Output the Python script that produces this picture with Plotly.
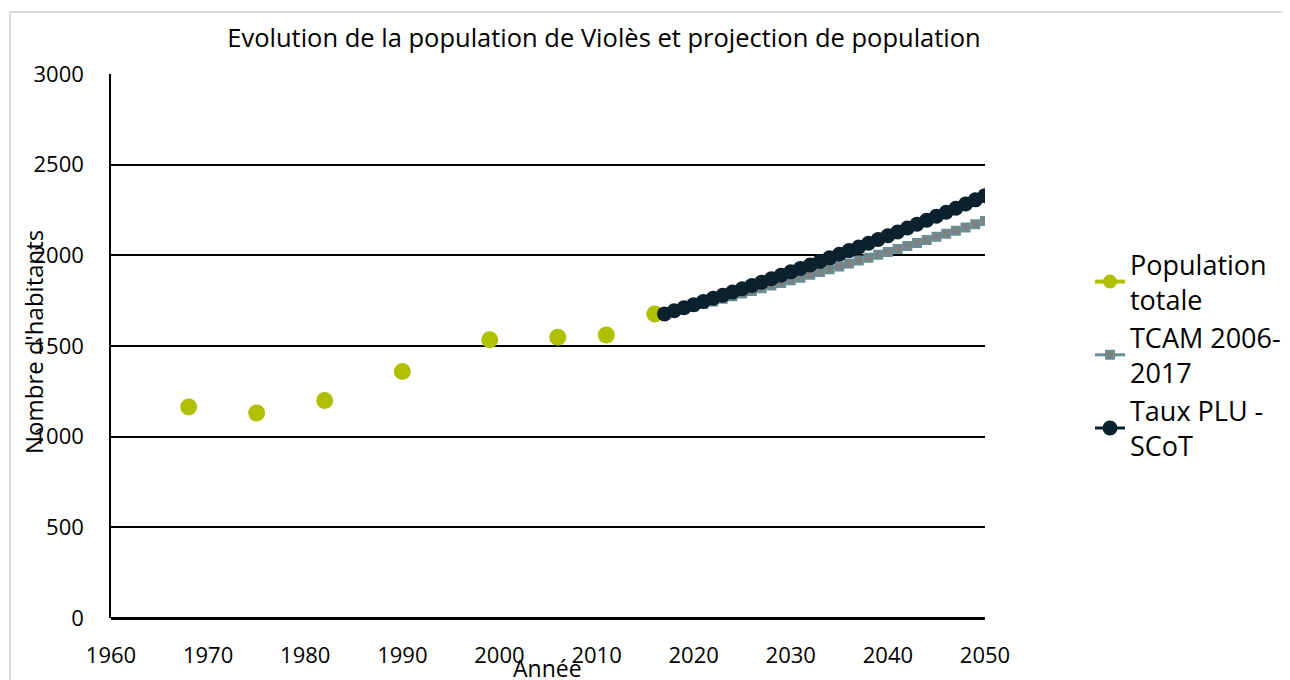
import plotly.graph_objects as go

# Data
years_hist = [1968, 1975, 1982, 1990, 1999, 2006, 2011, 2016]
pop_hist = [1163, 1130, 1200, 1360, 1535, 1548, 1560, 1677]

years_proj = list(range(2017, 2051))
tcam = [1677, 1691, 1704, 1718, 1732, 1746, 1760, 1774, 1789, 1803,
        1818, 1833, 1847, 1862, 1877, 1893, 1908, 1923, 1939, 1955,
        1971, 1987, 2003, 2019, 2035, 2052, 2068, 2085, 2102, 2119,
        2136, 2153, 2171, 2189]
plu = [1677, 1694, 1711, 1728, 1745, 1763, 1780, 1798, 1816, 1834,
       1852, 1871, 1890, 1909, 1928, 1947, 1966, 1986, 2006, 2026,
       2046, 2067, 2087, 2108, 2129, 2151, 2172, 2194, 2216, 2238,
       2260, 2283, 2306, 2329]

names = ["Population<br>totale", "TCAM 2006-<br>2017", "Taux PLU -<br>SCoT"]
title = "Evolution de la population de Violès et projection de population"
x_title = "Année"
y_title = "Nombre d'habitants"

GREEN = "#AFC000"
TEAL = "#6B8E95"
GRAY = "#808080"
NAVY = "#0B212D"
FONT = "Open Sans"

# page offset (body margin) is 8px; plot area in screen px: x 111..985, y 74..618
OFF = 8
L, R, T, B = 111 - OFF, 985 - OFF, 74 - OFF, 618 - OFF
W, H = 1290, 680
PW, PH = R - L, B - T


def px_x(sx):
    return (sx - OFF - L) / PW


def px_y(sy):
    return (B - (sy - OFF)) / PH


fig = go.Figure()

fig.add_trace(go.Scatter(
    x=years_hist, y=pop_hist, mode="markers", showlegend=False,
    marker=dict(color=GREEN, size=17, symbol="circle"),
))
fig.add_trace(go.Scatter(
    x=[None], y=[None], mode="lines+markers", name=names[0],
    line=dict(color=GREEN, width=4),
    marker=dict(color=GREEN, size=14, symbol="circle"),
))
fig.add_trace(go.Scatter(
    x=years_proj, y=tcam, mode="lines+markers", name=names[1],
    line=dict(color=TEAL, width=3),
    marker=dict(color=GRAY, size=8, symbol="square",
                line=dict(color=TEAL, width=2)),
))
fig.add_trace(go.Scatter(
    x=years_proj, y=plu, mode="lines+markers", name=names[2],
    line=dict(color=NAVY, width=3),
    marker=dict(color=NAVY, size=15, symbol="circle"),
))

fig.update_layout(
    width=W, height=H,
    margin=dict(l=L, r=W - R, t=T, b=H - B),
    paper_bgcolor="white", plot_bgcolor="white",
    font=dict(family=FONT, color="#000000"),
    title=dict(text=title, x=(604 - OFF) / W, xref="container", xanchor="center",
               y=1 - (38 - OFF) / H, yref="container", yanchor="middle",
               font=dict(size=25.5, family=FONT, color="#000000")),
    legend=dict(x=px_x(1090), y=px_y(240), xanchor="left", yanchor="top",
                font=dict(size=27, family=FONT, color="#000000"),
                bgcolor="rgba(0,0,0,0)"),
    showlegend=True,
)

fig.update_xaxes(range=[1960, 2050], tickmode="linear", tick0=1960, dtick=10,
                 showgrid=False, zeroline=False, showline=False,
                 ticks="", ticklabelstandoff=22,
                 tickfont=dict(size=22, family=FONT, color="#000000"))
fig.update_yaxes(range=[0, 3000], tickmode="linear", tick0=0, dtick=500,
                 showgrid=True, gridcolor="#000000", gridwidth=1.5,
                 zeroline=True, zerolinecolor="#000000", zerolinewidth=3,
                 showline=True, linecolor="#000000", linewidth=1.5,
                 ticks="", ticklabelstandoff=21,
                 tickfont=dict(size=22, family=FONT, color="#000000"))

fig.add_annotation(text=y_title, xref="paper", yref="paper",
                   x=px_x(33), y=px_y(342),
                   xanchor="center", yanchor="middle", textangle=-90,
                   showarrow=False, font=dict(size=24, family=FONT, color="#000000"))
fig.add_annotation(text=x_title, xref="paper", yref="paper",
                   x=px_x(547), y=px_y(668),
                   xanchor="center", yanchor="middle",
                   showarrow=False, font=dict(size=23, family=FONT, color="#000000"))

fig.add_shape(type="rect", xref="paper", yref="paper",
              x0=px_x(10), x1=px_x(1310),
              y0=px_y(720), y1=px_y(12),
              line=dict(color="#D9D9D9", width=2), fillcolor="rgba(0,0,0,0)",
              layer="below")

fig.write_html("out.html")
